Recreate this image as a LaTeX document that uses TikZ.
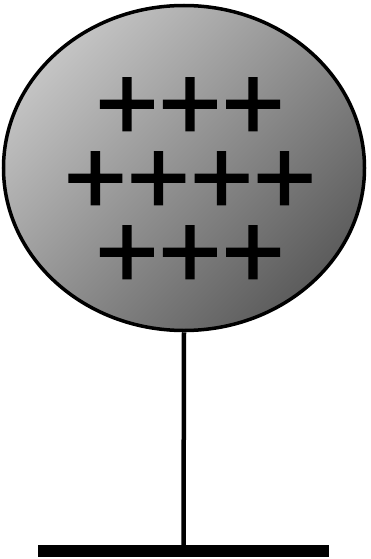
\documentclass[tikz,border=0pt]{standalone}
\usepackage{fontspec}
\setmainfont{Liberation Sans}
\newfontfamily\chargefont{Liberation Sans}[FakeBold=1.4]
\usepackage{tikz}
\usetikzlibrary{shapes.geometric,positioning}
\definecolor{shadelight}{RGB}{196,196,196}
\definecolor{shadedark}{RGB}{92,92,92}

\begin{document}
\begin{tikzpicture}[
  x=1pt,y=-1pt,
  balloon/.style={ellipse,draw,line width=3.5pt,minimum width=361pt,minimum height=325pt,inner sep=0pt,
    top color=shadelight,bottom color=shadedark,shading angle=45},
  charges/.style={align=center,inner sep=0pt,font=\chargefont\fontsize{108}{74}\selectfont},
  stringline/.style={line width=4.5pt},
  ground/.style={fill=black,minimum width=291pt,minimum height=12pt,inner sep=0pt},
]
\useasboundingbox (0,0) rectangle (370,559);
\node[balloon] (ball) at (184,168) {};
\node[charges] (plus) at (190,183) {+++\\++++\\+++};
% string down to the ground
\node[ground] (base) at (183.5,551) {};
\draw[stringline] (ball.south) -- (base.north);
\end{tikzpicture}
\end{document}
